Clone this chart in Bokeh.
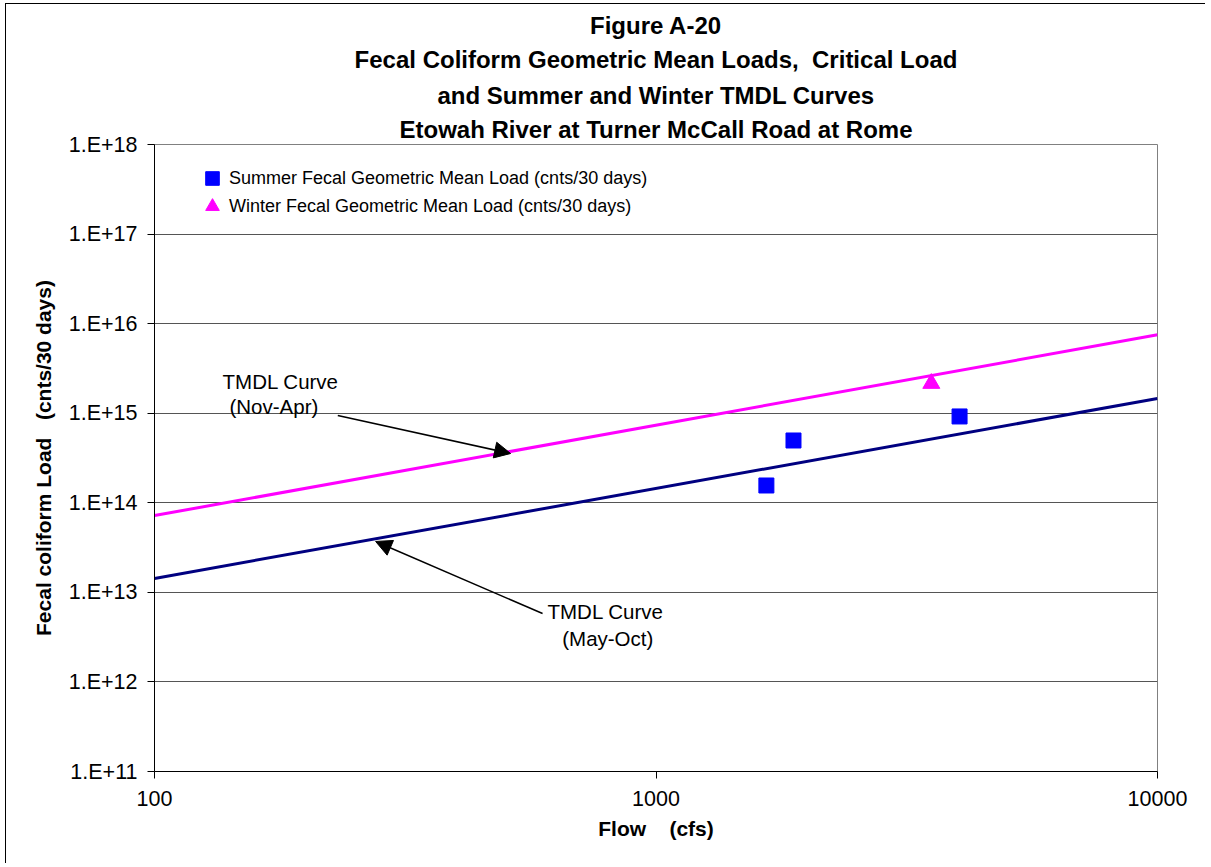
from bokeh.plotting import figure
from bokeh.models import (Range1d, FixedTicker, CustomJSTickFormatter, Legend, LegendItem,
                          Arrow, NormalHead, Label, Title)
from bokeh.embed import file_html
from bokeh.resources import INLINE

# ---- data ----
line_flow = [100, 10000]
summer_tmdl = [1.43e13, 1.46e15]
winter_tmdl = [7.2e13, 7.5e15]

summer_flow = [1660, 1880, 4030]
summer_load = [1.56e14, 4.96e14, 9.2e14]
winter_flow = [3540]
winter_load = [2.15e15]

x_ticks = [100, 1000, 10000]
y_ticks = [1e11, 1e12, 1e13, 1e14, 1e15, 1e16, 1e17, 1e18]

title_lines = ["Figure A-20",
               "Fecal Coliform Geometric Mean Loads,\u00a0 Critical Load",
               "and Summer and Winter TMDL Curves",
               "Etowah River at Turner McCall Road at Rome"]

FONT = "Liberation Sans"

p = figure(width=1200, height=860, x_axis_type="log", y_axis_type="log",
           x_range=Range1d(100, 10000), y_range=Range1d(1e11, 1e18),
           output_backend="svg", toolbar_location=None,
           min_border_left=148, min_border_right=49, min_border_top=140, min_border_bottom=93)
p.styles = {"border-left": "1px solid black", "border-top": "1px solid black",
            "margin-left": "5px", "margin-top": "3px"}

# titles: added from the frame outward
standoffs = [4, 7, 7, 3]
for line, so in reversed(list(zip(title_lines, standoffs))):
    p.add_layout(Title(text=line, align="center", text_font=FONT, text_font_size="24px",
                       text_font_style="bold", text_color="black", standoff=so), "above")

p.outline_line_color = "#808080"
p.xgrid.grid_line_color = None
p.ygrid.grid_line_color = "#555555"
p.ygrid.grid_line_width = 1

p.xaxis.ticker = FixedTicker(ticks=x_ticks, minor_ticks=[])
p.yaxis.ticker = FixedTicker(ticks=y_ticks, minor_ticks=[])
p.xaxis.formatter = CustomJSTickFormatter(code="return Math.round(tick).toString();")
p.yaxis.formatter = CustomJSTickFormatter(code="return '1.E+' + Math.round(Math.log10(tick));")

for ax in (p.xaxis, p.yaxis):
    ax.axis_line_color = "black"
    ax.major_tick_line_color = "black"
    ax.minor_tick_line_color = None
    ax.major_tick_in = 0
    ax.major_tick_out = 7
    ax.major_label_text_font = FONT
    ax.major_label_text_font_size = "21.5px"
    ax.major_label_text_color = "black"
    ax.axis_label_text_font = FONT
    ax.axis_label_text_font_size = "21px"
    ax.axis_label_text_font_style = "bold"
    ax.axis_label_text_color = "black"

p.xaxis.axis_label = "Flow\u00a0\u00a0\u00a0 (cfs)"
p.yaxis.axis_label = "Fecal coliform Load\u00a0\u00a0 (cnts/30 days)"
p.xaxis.major_label_standoff = 12
p.xaxis.axis_label_standoff = 8
p.yaxis.major_label_standoff = 10
p.yaxis.axis_label_standoff = 11

l_w = p.line(line_flow, winter_tmdl, line_color="#FF00FF", line_width=3)
l_s = p.line(line_flow, summer_tmdl, line_color="#000080", line_width=3)
r_s = p.scatter(summer_flow, summer_load, marker="square", size=15,
                fill_color="#0000FF", line_color="#0000FF")
r_w = p.scatter(winter_flow, winter_load, marker="triangle", size=17,
                fill_color="#FF00FF", line_color="#FF00FF")

leg_kw = dict(glyph_width=34, glyph_height=36, label_standoff=0, padding=0, margin=0,
              border_line_color=None, background_fill_alpha=0, label_text_font=FONT,
              label_text_font_size="18px", label_text_baseline="middle",
              label_text_color="black")
p.add_layout(Legend(items=[LegendItem(label="Summer Fecal Geometric Mean Load (cnts/30 days)",
                                      renderers=[r_s])], location=(41, 575), **leg_kw))
p.add_layout(Legend(items=[LegendItem(label="Winter Fecal Geometric Mean Load (cnts/30 days)",
                                      renderers=[r_w])], location=(41, 547), **leg_kw))

p.add_layout(Arrow(end=NormalHead(size=16, fill_color="black", line_color="black"),
                   x_start=232, y_start=9.43e14, x_end=513, y_end=3.55e14,
                   line_color="black", line_width=1.5))
p.add_layout(Arrow(end=NormalHead(size=16, fill_color="black", line_color="black"),
                   x_start=594, y_start=5.8e12, x_end=276, y_end=3.7e13,
                   line_color="black", line_width=1.5))

for (lx, ly, txt) in [(136.7, 2.26e15, "TMDL Curve"), (141.1, 1.19e15, "(Nov-Apr)"),
                      (607.7, 6.11e12, "TMDL Curve"), (650.2, 3.05e12, "(May-Oct)")]:
    p.add_layout(Label(x=lx, y=ly, text=txt, text_font=FONT, text_font_size="20.5px",
                       text_baseline="middle", text_align="left", text_color="black"))

open("out.html", "w").write(file_html(p, INLINE))
